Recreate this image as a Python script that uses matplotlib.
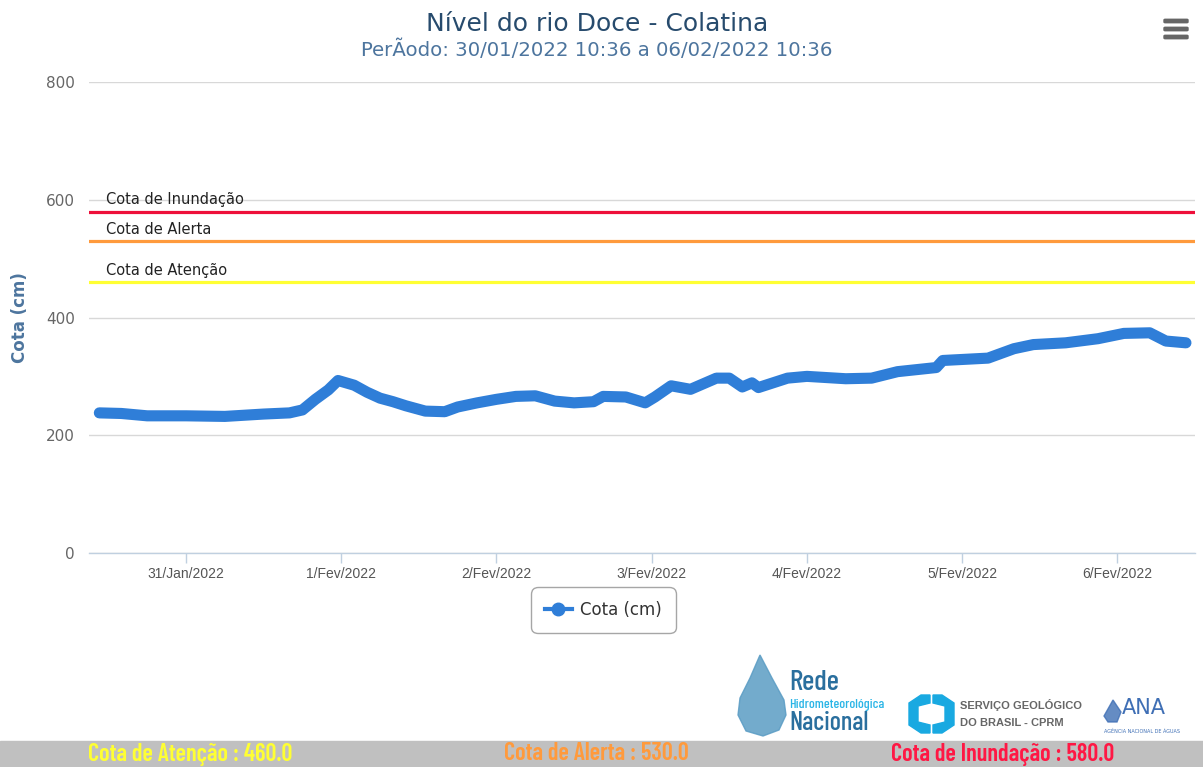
import matplotlib
matplotlib.use("Agg")
import matplotlib.pyplot as plt
from matplotlib.lines import Line2D
from matplotlib.patches import Rectangle, FancyBboxPatch, Polygon
from matplotlib import font_manager
from matplotlib.font_manager import FontProperties
import pandas as pd

# ---------------- data ----------------
times = [
    "2022-01-30 10:36", "2022-01-30 14:00", "2022-01-30 18:00", "2022-01-31 00:00",
    "2022-01-31 06:00", "2022-01-31 12:00", "2022-01-31 16:00", "2022-01-31 18:00",
    "2022-01-31 20:00", "2022-01-31 22:00", "2022-01-31 23:30", "2022-02-01 02:00",
    "2022-02-01 04:00", "2022-02-01 06:00", "2022-02-01 08:00", "2022-02-01 10:00",
    "2022-02-01 13:00", "2022-02-01 16:00", "2022-02-01 18:00", "2022-02-01 21:00",
    "2022-02-02 00:00", "2022-02-02 03:00", "2022-02-02 06:00", "2022-02-02 09:00",
    "2022-02-02 12:00", "2022-02-02 15:00", "2022-02-02 16:30", "2022-02-02 20:00",
    "2022-02-02 23:00", "2022-02-03 00:30", "2022-02-03 03:00", "2022-02-03 06:00",
    "2022-02-03 10:00", "2022-02-03 12:00", "2022-02-03 14:00", "2022-02-03 15:30",
    "2022-02-03 16:30", "2022-02-03 21:00", "2022-02-04 00:00", "2022-02-04 06:00",
    "2022-02-04 10:00", "2022-02-04 14:00", "2022-02-04 20:00", "2022-02-04 21:00",
    "2022-02-05 04:00", "2022-02-05 08:00", "2022-02-05 11:00", "2022-02-05 16:00",
    "2022-02-05 21:00", "2022-02-06 01:00", "2022-02-06 05:00", "2022-02-06 07:30",
    "2022-02-06 10:36",
]
cota_cm = [
    238, 237, 233, 233,
    232, 236, 238, 243,
    261, 277, 293, 285,
    273, 263, 257, 250,
    241, 240, 248, 255,
    261, 266, 267, 258,
    255, 257, 266, 265,
    255, 265, 284, 278,
    297, 297, 282, 289,
    281, 297, 300, 296,
    297, 308, 315, 327,
    331, 347, 354, 357,
    364, 373, 374, 360,
    357,
]

threshold_names = ["Cota de Inundação", "Cota de Alerta", "Cota de Atenção"]
threshold_values = [580, 530, 460]
threshold_colors = ["#ee0f3a", "#ff9a3c", "#ffff33"]

bar_labels = ["Cota de Atenção : 460.0", "Cota de Alerta : 530.0", "Cota de Inundação : 580.0"]
bar_colors = ["#ffff33", "#ff9a3c", "#ff1744"]

tick_dates = ["2022-01-31", "2022-02-01", "2022-02-02", "2022-02-03",
              "2022-02-04", "2022-02-05", "2022-02-06"]
tick_labels = ["31/Jan/2022", "1/Fev/2022", "2/Fev/2022", "3/Fev/2022",
               "4/Fev/2022", "5/Fev/2022", "6/Fev/2022"]
y_ticks = [0, 200, 400, 600, 800]

title = "Nível do rio Doce - Colatina"
subtitle = "PerÃodo: 30/01/2022 10:36 a 06/02/2022 10:36"
series_name = "Cota (cm)"
y_title = "Cota (cm)"

# ---------------- fonts ----------------
plt.rcParams["font.family"] = ["DejaVu Sans"]
avail = {f.name for f in font_manager.fontManager.ttflist}
cond = "Barlow Condensed" if "Barlow Condensed" in avail else "Liberation Sans"
narrow_fp = FontProperties(family=cond, weight=600, style="normal")
narrow_fp_reg = FontProperties(family=cond, weight=500, style="normal")

W, H = 1203, 767
fig = plt.figure(figsize=(W / 100, H / 100), dpi=100)


def fx(px):
    return px / W


def fy(py):
    return 1 - py / H


ax = fig.add_axes([fx(89), fy(553), fx(1195) - fx(89), fy(82) - fy(553)])

t = pd.to_datetime(times)
ax.plot(t, cota_cm, color="#2f7ed8", lw=8, solid_capstyle="round",
        solid_joinstyle="round", zorder=5)

for name, val, col in zip(threshold_names, threshold_values, threshold_colors):
    ax.axhline(val, color=col, lw=2.3, zorder=3)
    ax.annotate(name, xy=(0, val), xycoords=("axes fraction", "data"),
                xytext=(12, 3.0), textcoords="offset points",
                fontsize=10.5, color="#222222", va="bottom", ha="left", zorder=4)

ax.set_xlim(pd.Timestamp("2022-01-30 09:00"), pd.Timestamp("2022-02-06 12:00"))
ax.set_ylim(0, 800)
ax.set_yticks(y_ticks)
ax.set_yticklabels([str(v) for v in y_ticks])
ax.set_xticks(pd.to_datetime(tick_dates))
ax.set_xticklabels(tick_labels, fontfamily="Liberation Sans")

ax.grid(axis="y", color="#d8d8d8", lw=1.0, zorder=0)
ax.grid(axis="x", visible=False)
for s in ["top", "right", "left"]:
    ax.spines[s].set_visible(False)
ax.spines["bottom"].set_color("#c0d0e0")
ax.spines["bottom"].set_linewidth(1.0)
ax.tick_params(axis="y", length=0, pad=10, labelsize=11, labelcolor="#666666")
ax.tick_params(axis="x", length=7, width=1, color="#c0d0e0", pad=3,
               labelsize=10, labelcolor="#555555")

fig.text(fx(20), fy(318), y_title, rotation=90, ha="center", va="center",
         fontsize=12, fontweight="bold", color="#4d759e")

fig.text(fx(597), fy(24), title, ha="center", va="center", fontsize=18, color="#274b6d")
fig.text(fx(597), fy(50), subtitle, ha="center", va="center", fontsize=14.2, color="#4d759e")

# legend
handle = Line2D([], [], color="#2f7ed8", lw=3, marker="o", ms=9)
leg = fig.legend([handle], [series_name], loc="center", bbox_to_anchor=(fx(603.5), fy(610)),
                 fontsize=12, frameon=True, fancybox=True, edgecolor="#909090",
                 handlelength=1.6, handletextpad=0.5, borderpad=0.55)
leg.get_frame().set_linewidth(1.0)
leg.get_frame().set_boxstyle("round,pad=0.3,rounding_size=0.4")
for txt in leg.get_texts():
    txt.set_color("#333333")

# hamburger menu icon
for yc in [21, 29, 37]:
    fig.patches.append(FancyBboxPatch((fx(1164), fy(yc + 1.7)), fx(24), 3.4 / H,
                                      boxstyle="round,pad=0,rounding_size=0.001",
                                      transform=fig.transFigure, color="#666666"))

# logos (approximation)
drop = Polygon([(fx(760), fy(655)), (fx(772), fy(678)), (fx(784), fy(700)), (fx(786), fy(715)),
                (fx(779), fy(730)), (fx(763), fy(736)), (fx(746), fy(731)), (fx(738), fy(715)),
                (fx(740), fy(698)), (fx(750), fy(678))],
               closed=True, transform=fig.transFigure, color="#5a9cc4", alpha=0.85)
fig.patches.append(drop)
for s, size, col, yy in [("Rede", 21, "#2a6f9e", 683), ("Hidrometeorológica", 10, "#2ab5e6", 705),
                         ("Nacional", 19, "#2a6f9e", 723)]:
    tx = fig.text(fx(789), fy(yy), s, color=col, va="center", ha="left",
                  fontproperties=narrow_fp_reg)
    tx.set_fontsize(size)

left_b = Polygon([(fx(921), fy(695)), (fx(909), fy(703)), (fx(909), fy(725)), (fx(921), fy(733)),
                  (fx(930), fy(733)), (fx(930), fy(725)), (fx(918), fy(722)), (fx(918), fy(706)),
                  (fx(930), fy(703)), (fx(930), fy(695))],
                 closed=True, transform=fig.transFigure, color="#19a9e1")
right_b = Polygon([(fx(942), fy(695)), (fx(954), fy(703)), (fx(954), fy(725)), (fx(942), fy(733)),
                   (fx(933), fy(733)), (fx(933), fy(725)), (fx(945), fy(722)), (fx(945), fy(706)),
                   (fx(933), fy(703)), (fx(933), fy(695))],
                  closed=True, transform=fig.transFigure, color="#19a9e1")
fig.patches.extend([left_b, right_b])
fig.text(fx(960), fy(705), "SERVIÇO GEOLÓGICO", fontsize=8, fontweight="bold", color="#666666",
         va="center", ha="left", fontfamily="Liberation Sans")
fig.text(fx(960), fy(723), "DO BRASIL - CPRM", fontsize=8, fontweight="bold", color="#666666",
         va="center", ha="left", fontfamily="Liberation Sans")

wave = Polygon([(fx(1104), fy(716)), (fx(1113), fy(700)), (fx(1121), fy(712)), (fx(1117), fy(722)),
                (fx(1108), fy(722))], closed=True, transform=fig.transFigure, color="#3f6fb5", alpha=0.8)
fig.patches.append(wave)
fig.text(fx(1122), fy(708), "ANA", fontsize=15, color="#3f6fb5", va="center", ha="left")
fig.text(fx(1104), fy(731), "AGÊNCIA NACIONAL DE ÁGUAS", fontsize=3.5, color="#3f6fb5",
         va="center", ha="left")

# bottom bar
fig.patches.append(Rectangle((0, 0), 1, 26 / H, transform=fig.transFigure, color="#c0c0c0"))
for lab, col, xc in zip(bar_labels, bar_colors, [190, 596, 1003]):
    txt = fig.text(fx(xc), fy(754), lab, ha="center", va="center",
                   color=col, fontproperties=narrow_fp)
    txt.set_fontsize(17.5)

fig.savefig("out.png", dpi=100)
